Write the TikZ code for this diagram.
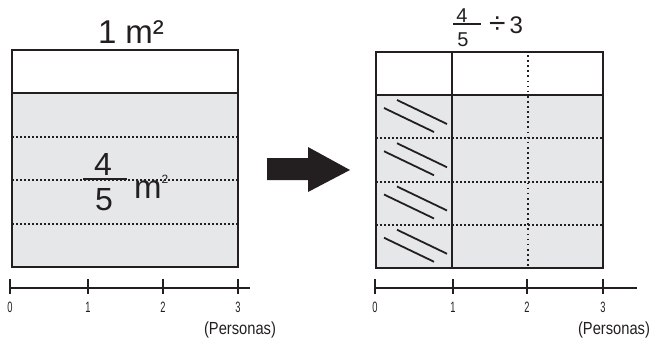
\documentclass[tikz,border=0pt]{standalone}
\usepackage{fontspec}
\setmainfont{Liberation Sans}
\usepackage{graphicx}
\usetikzlibrary{positioning,arrows.meta}
\definecolor{boxgray}{RGB}{230,231,232}
\definecolor{inkblack}{RGB}{35,31,32}
\newcommand{\fsz}[1]{\fontsize{#1}{#1}\selectfont}
\newcommand{\narrow}[2]{\scalebox{#1}[1]{#2}}

\begin{document}
\begin{tikzpicture}[x=1pt, y=-1pt, inkblack,
  box/.style={draw, line width=1.8pt},
  rowdiv/.style={line width=2pt, dash pattern=on 2pt off 2pt},
  coldiv/.style={line width=1.7pt, dash pattern=on 1.7pt off 3.4pt},
  hatch/.style={line width=1.8pt},
  axis/.style={line width=1.3pt},
  ticklbl/.style={anchor=base, inner sep=0pt, font=\fsz{15}},
  unitlbl/.style={anchor=base, inner sep=0pt, font=\fsz{17.5}},
  big/.style={anchor=base, inner sep=0pt, font=\fsz{33}}]
\useasboundingbox (0,0) rectangle (653,340);

% left: the whole square metre
\fill[boxgray] (12,93) rectangle (238,267);
\draw[box] (12,50) rectangle (238,267);
\draw[box] (12,93) -- (238,93);
\foreach \y in {136.5,180,223.5}
  \draw[rowdiv] (12,\y) -- (238,\y);
\node[big] (wholeA) at (131,43) {1 m²};
\node[big, font=\fsz{32}] (numA) at (103,175) {4};
\node[big, font=\fsz{32}] (denA) at (104,210) {5};
\draw[line width=1.6pt] (83,179) -- (127,179);
\node[big, font=\fsz{33}, anchor=base west] (unitA) at (134,198) {m\raisebox{15pt}{\fsz{12}2}};

% left axis
\draw[axis] (10,288) -- (250,288);
\foreach \x/\n [count=\i] in {10/0,88/1,163/2,238/3} {
  \draw[axis] (\x,279) -- (\x,294);
  \node[ticklbl] (tickA\i) at (\x,312) {\narrow{0.62}{\n}};
}
\node[unitlbl] (persA) at (240,334) {\narrow{0.84}{(Personas)}};

% arrow
\fill (267,158) -- (308,158) -- (308,147) -- (350,170) -- (308,192) -- (308,180) -- (267,180) -- cycle;

% right: shared among three
\fill[boxgray] (376,95) rectangle (603,268);
\foreach \k in {0,...,3} {
  \pgfmathsetmacro{\yt}{95+43.25*\k}
  \draw[hatch] (384,\yt+13) -- (434,\yt+37);
  \draw[hatch] (397,\yt+5) -- (447,\yt+29);
}
\foreach \y in {138.25,181.5,224.75}
  \draw[rowdiv] (376,\y) -- (603,\y);
\draw[coldiv] (528,55) -- (528,266);
\draw[box] (376,52) rectangle (603,268);
\draw[box] (376,95) -- (603,95);
\draw[box] (452,52) -- (452,268);
\node[big, font=\fsz{20}] (numB) at (462,22) {4};
\node[big, font=\fsz{20}] (denB) at (463,46) {5};
\draw[line width=1.4pt] (453,24) -- (481,24);
\node[big, font=\fsz{24}, anchor=base west] (divB) at (489,33) {\scalebox{1.25}{÷}\,3};

% right axis
\draw[axis] (375,288) -- (637,288);
\foreach \x/\n [count=\i] in {375/0,453/1,527/2,603/3} {
  \draw[axis] (\x,279) -- (\x,294);
  \node[ticklbl] (tickB\i) at (\x,312) {\narrow{0.62}{\n}};
}
\node[unitlbl] (persB) at (614,334) {\narrow{0.84}{(Personas)}};
\end{tikzpicture}
\end{document}
